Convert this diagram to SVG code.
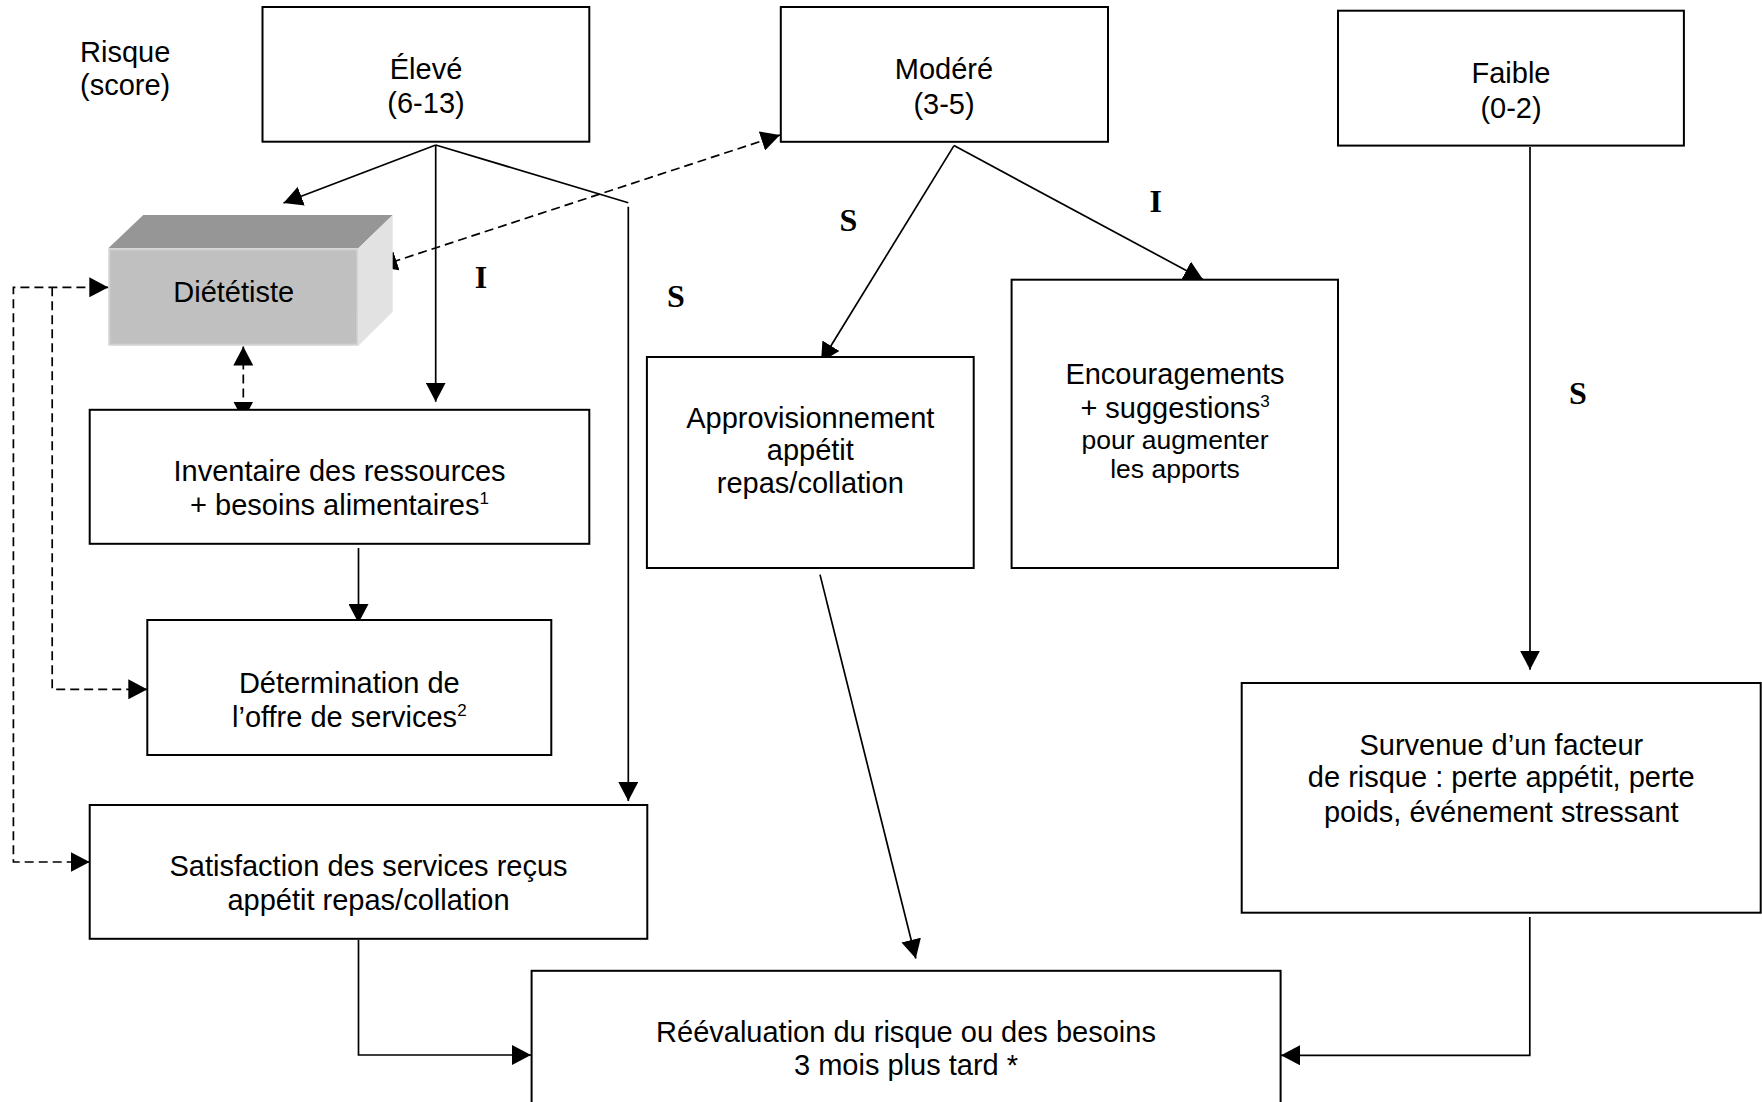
<svg xmlns="http://www.w3.org/2000/svg" width="1762" height="1102" viewBox="0 0 1762 1102">
<defs>
<style>
.box{fill:#fff;stroke:#000;stroke-width:2}
.t{font-family:"Liberation Sans",Arial,sans-serif;font-size:29px;fill:#000;text-anchor:middle}
.ts{font-size:26.5px}
.sup{font-size:17px}
.lab{font-family:"Liberation Serif","Times New Roman",serif;font-weight:bold;font-size:32px;fill:#000;text-anchor:middle}
.c{fill:none;stroke:#000;stroke-width:1.7}
.d{fill:none;stroke:#000;stroke-width:1.7;stroke-dasharray:9 5}
</style>
<marker id="ah" viewBox="0 0 19 20" refX="19" refY="10" markerWidth="19" markerHeight="20" markerUnits="userSpaceOnUse" orient="auto-start-reverse">
<path d="M0,0 L19,10 L0,20 Z" fill="#000" stroke="none"/>
</marker>
</defs>
<rect width="1762" height="1102" fill="#fff"/>

<g id="connectors">
<path class="c" d="M435.7,145 L283.5,203" marker-end="url(#ah)"/>
<path class="c" d="M435.7,145 V401.7" marker-end="url(#ah)"/>
<path class="c" d="M435.7,145 L628.3,202.7"/>
<path class="c" d="M628.3,206.7 V801" marker-end="url(#ah)"/>
<path class="c" d="M954,145.6 L821,362" marker-end="url(#ah)"/>
<path class="c" d="M954,145.6 L1203,279.5" marker-end="url(#ah)"/>
<path class="c" d="M1530,147 V669.7" marker-end="url(#ah)"/>
<path class="c" d="M358.5,548 V623" marker-end="url(#ah)"/>
<path class="c" d="M358.5,940 V1055 H531" marker-end="url(#ah)"/>
<path class="c" d="M820,574.6 L915.8,958.5" marker-end="url(#ah)"/>
<path class="c" d="M1529.8,917 V1055.3 H1281" marker-end="url(#ah)"/>
<path class="d" d="M378.3,266.7 L780,135" marker-start="url(#ah)" marker-end="url(#ah)"/>
<path class="d" d="M243.3,346.5 V420.5" marker-start="url(#ah)" marker-end="url(#ah)"/>
<path class="d" d="M89.7,862 H13.4 V287.3 H108.3" marker-start="url(#ah)" marker-end="url(#ah)"/>
<path class="d" d="M52.2,287.3 V689.3 H147.3" marker-end="url(#ah)"/>
</g>

<g id="labels">
<text class="t" x="80" y="62" style="text-anchor:start">Risque</text>
<text class="t" x="80" y="95" style="text-anchor:start">(score)</text>
<text class="lab" x="481" y="288.3">I</text>
<text class="lab" x="676" y="306.5">S</text>
<text class="lab" x="848.3" y="230.7">S</text>
<text class="lab" x="1155.7" y="212.3">I</text>
<text class="lab" x="1578" y="404">S</text>
</g>

<g id="eleve">
<rect class="box" x="262.5" y="7" width="326.8" height="134.7"/>
<text class="t" x="426" y="79">Élevé</text>
<text class="t" x="426" y="113">(6-13)</text>
</g>

<g id="modere">
<rect class="box" x="780.8" y="7" width="327.2" height="134.8"/>
<text class="t" x="944" y="79">Modéré</text>
<text class="t" x="944" y="113.5">(3-5)</text>
</g>

<g id="faible">
<rect class="box" x="1338" y="10.7" width="345.9" height="134.9"/>
<text class="t" x="1511" y="83">Faible</text>
<text class="t" x="1511" y="117.5">(0-2)</text>
</g>

<g id="dietetiste">
<polygon points="108.3,248.3 143.3,215 392.7,215 358.3,248.3" fill="#969696"/>
<polygon points="358.3,248.3 392.7,215 392.7,311.7 358.3,345.7" fill="#e2e2e2"/>
<rect x="109.3" y="249.3" width="248" height="95.4" fill="#c0c0c0" stroke="#d2d2d2" stroke-width="2"/>
<text class="t" x="233.7" y="302">Diététiste</text>
</g>

<g id="inventaire">
<rect class="box" x="89.7" y="409.8" width="499.6" height="134"/>
<text class="t" x="339.5" y="481">Inventaire des ressources</text>
<text class="t" x="339.5" y="514.5">+ besoins alimentaires<tspan class="sup" dy="-11">1</tspan></text>
</g>

<g id="determination">
<rect class="box" x="147.3" y="620" width="404" height="135"/>
<text class="t" x="349.3" y="693">Détermination de</text>
<text class="t" x="349.3" y="726.5">l’offre de services<tspan class="sup" dy="-11">2</tspan></text>
</g>

<g id="satisfaction">
<rect class="box" x="89.7" y="805" width="557.6" height="133.8"/>
<text class="t" x="368.5" y="876">Satisfaction des services reçus</text>
<text class="t" x="368.5" y="909.5">appétit repas/collation</text>
</g>

<g id="approvisionnement">
<rect class="box" x="646.9" y="357" width="326.8" height="211"/>
<text class="t" x="810.3" y="427.5">Approvisionnement</text>
<text class="t" x="810.3" y="460.3">appétit</text>
<text class="t" x="810.3" y="493">repas/collation</text>
</g>

<g id="encouragements">
<rect class="box" x="1011.6" y="279.7" width="326.4" height="288.3"/>
<text class="t" x="1175" y="383.5">Encouragements</text>
<text class="t" x="1175" y="418">+ suggestions<tspan class="sup" dy="-11">3</tspan></text>
<text class="t ts" x="1175" y="448.5">pour augmenter</text>
<text class="t ts" x="1175" y="477.5">les apports</text>
</g>

<g id="survenue">
<rect class="box" x="1241.7" y="683" width="519" height="229.7"/>
<text class="t" x="1501.3" y="754.5">Survenue d’un facteur</text>
<text class="t" x="1501.3" y="787">de risque : perte appétit, perte</text>
<text class="t" x="1501.3" y="821.5">poids, événement stressant</text>
</g>

<g id="reevaluation">
<rect class="box" x="531.6" y="970.8" width="749" height="200"/>
<text class="t" x="906" y="1041.5">Réévaluation du risque ou des besoins</text>
<text class="t" x="906" y="1075">3 mois plus tard *</text>
</g>
</svg>
